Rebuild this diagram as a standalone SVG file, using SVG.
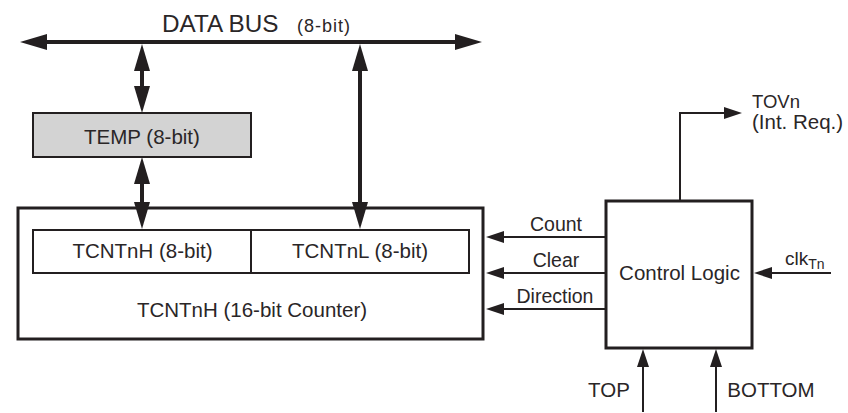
<svg xmlns="http://www.w3.org/2000/svg" width="848" height="413" viewBox="0 0 848 413">
<style>
text{font-family:"Liberation Sans",Arial,sans-serif;fill:#2a2627}
.lbl{font-size:20.5px}
.mid{text-anchor:middle}
.box{fill:#fff;stroke:#231f20;stroke-width:2}
.thick{stroke-width:3}
.bus{fill:none;stroke:#231f20;stroke-width:4;marker-start:url(#big);marker-end:url(#big)}
.sig{fill:none;stroke:#231f20;stroke-width:2;marker-end:url(#small)}
</style>
<defs>
<marker id="big" viewBox="0 0 27 16" markerWidth="27" markerHeight="16" refX="20" refY="8" orient="auto-start-reverse" markerUnits="userSpaceOnUse">
<path d="M0,0 L27,8 L0,16 z" fill="#231f20"/>
</marker>
<marker id="small" viewBox="0 0 18 12" markerWidth="18" markerHeight="12" refX="15" refY="6" orient="auto" markerUnits="userSpaceOnUse">
<path d="M0,0 L18,6 L0,12 z" fill="#231f20"/>
</marker>
</defs>

<g id="databus">
<text x="162" y="32" style="font-size:24.3px">DATA BUS</text>
<text x="297" y="32" style="font-size:18px;letter-spacing:1px">(8-bit)</text>
</g>

<g id="temp">
<rect class="box" x="33" y="113" width="218" height="44" style="fill:#d3d3d3"/>
<text class="lbl mid" x="142" y="144">TEMP (8-bit)</text>
</g>

<g id="counter">
<rect class="box thick" x="18" y="208" width="465" height="131"/>
<text class="lbl mid" x="252" y="317">TCNTnH (16-bit Counter)</text>
</g>

<g id="tcnth">
<rect class="box" x="33" y="230" width="218" height="43"/>
<text class="lbl mid" x="142.5" y="258">TCNTnH (8-bit)</text>
</g>

<g id="tcntl">
<rect class="box" x="251" y="230" width="218" height="43"/>
<text class="lbl mid" x="360" y="258">TCNTnL (8-bit)</text>
</g>

<g id="control">
<rect class="box thick" x="606" y="201" width="146" height="147"/>
<text class="lbl mid" x="679.5" y="280">Control Logic</text>
</g>

<g id="connectors">
<path class="bus" d="M27,42 L475,42"/>
<path class="bus" d="M142,51 L142,106"/>
<path class="bus" d="M142,164 L142,222"/>
<path class="bus" d="M360,51 L360,222"/>
<path class="sig" d="M605,237 L489,237"/>
<path class="sig" d="M605,273 L489,273"/>
<path class="sig" d="M605,309 L489,309"/>
<path class="sig" d="M680,200 L680,113 L739,113"/>
<path class="sig" d="M831,273 L757,273"/>
<path class="sig" d="M643,412 L643,352"/>
<path class="sig" d="M716,412 L716,352"/>
</g>

<g id="labels">
<text class="mid" x="556" y="231" style="font-size:19.5px">Count</text>
<text class="mid" x="556" y="267" style="font-size:19.5px">Clear</text>
<text class="mid" x="555" y="303" style="font-size:19.5px">Direction</text>
<text x="752" y="108" style="font-size:18.5px">TOVn</text>
<text class="lbl" x="752" y="129">(Int. Req.)</text>
<text x="785" y="265" style="font-size:19px">clk<tspan style="font-size:14px" dy="4">Tn</tspan></text>
<text class="lbl mid" x="609" y="397">TOP</text>
<text class="lbl mid" x="771" y="397">BOTTOM</text>
</g>
</svg>
